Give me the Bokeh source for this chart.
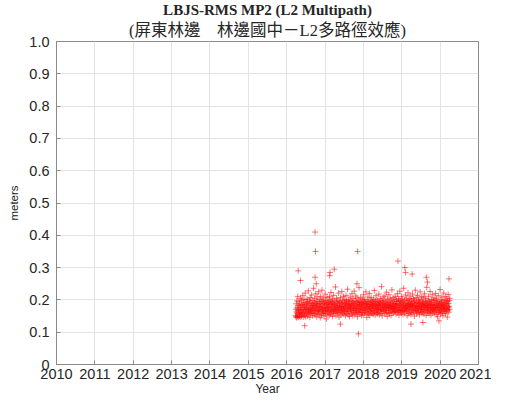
import numpy as np
from bokeh.plotting import figure
from bokeh.models import (ColumnDataSource, FixedTicker, CustomJSTickFormatter,
                          Title, Range1d)
from bokeh.embed import file_html
from bokeh.resources import INLINE

title_main = "LBJS-RMS MP2 (L2 Multipath)"
title_sub = "(屏東林邊　林邊國中－L2多路徑效應)"
x_label = "Year"
y_label = "meters"
x_ticks = [2010, 2011, 2012, 2013, 2014, 2015, 2016, 2017, 2018, 2019, 2020, 2021]
y_ticks = [0.0, 0.1, 0.2, 0.3, 0.4, 0.5, 0.6, 0.7, 0.8, 0.9, 1.0]

# daily-ish observation span
first_year = 2016.23
last_year = 2020.25

# RMS MP2 values in millimetres
mp2_mm = [
    152,171,148,188,163,145,197,159,176,149,210,168,183,146,172,155,194,161,150,187,169,147,178,205,158,
    165,182,149,199,171,154,186,160,213,175,147,190,168,157,201,179,152,184,163,221,170,148,192,176,159,
    187,166,203,174,150,195,181,161,228,169,155,188,172,199,163,146,184,207,170,158,193,177,165,215,182,
    160,189,174,151,198,168,182,236,175,157,191,166,204,179,153,186,171,219,162,194,177,148,188,209,167,
    183,158,196,172,164,225,180,155,190,169,201,176,145,187,211,163,179,195,152,174,230,168,185,159,197,
    171,206,162,189,176,150,193,181,165,218,173,158,199,184,167,141,190,175,208,162,186,171,154,196,179,
    164,192,177,153,210,185,168,199,172,156,189,223,166,181,195,160,176,203,149,187,170,191,163,214,178,
    158,186,171,197,165,182,240,174,151,193,168,205,180,162,188,175,157,199,183,166,221,170,147,190,177,
    195,161,184,169,207,176,153,192,180,165,226,172,188,159,198,181,167,211,174,156,193,179,163,202,186,
    170,151,189,176,214,163,197,182,158,191,173,233,168,185,154,200,178,164,195,181,149,188,171,209,175,
    182,166,198,157,186,172,219,160,193,177,151,204,184,169,190,162,227,175,188,155,196,180,167,212,173,
    159,194,178,165,206,183,148,191,174,161,199,186,170,238,163,181,195,156,187,173,208,166,192,179,152,
    185,170,203,161,189,176,154,197,182,216,168,193,175,159,201,184,166,190,172,225,160,187,178,146,196,
    174,188,162,209,179,155,194,171,186,164,220,177,152,199,183,168,191,175,207,160,185,172,196,158,181,
    193,167,180,156,202,187,173,229,164,190,178,153,197,184,169,213,176,161,188,174,200,157,183,170,195,
    162,186,171,218,179,154,192,183,166,204,175,189,158,197,172,241,168,185,151,194,180,165,209,177,188,
    170,199,163,184,176,212,157,190,181,167,196,173,224,160,187,178,149,202,185,169,193,175,162,216,182,
    176,158,191,183,205,168,187,174,152,199,180,165,231,171,194,177,160,188,207,173,184,162,197,179,166,
    189,172,211,164,185,178,156,201,187,169,195,175,219,161,182,190,167,204,176,153,198,184,171,227,163,
    181,196,168,187,159,210,176,192,165,183,202,171,155,194,180,236,167,188,174,160,199,185,172,215,178,
    164,190,177,205,169,184,151,197,181,166,222,174,189,158,200,183,170,193,176,212,162,186,179,155,203,
    187,171,196,160,183,218,175,190,167,181,204,163,194,178,150,199,184,169,230,173,188,165,207,180,157,
    192,176,168,214,183,161,197,174,189,166,202,180,154,193,178,225,170,186,163,199,181,172,210,159,188,
    175,194,162,185,208,171,190,156,183,177,219,165,196,180,168,204,187,152,192,174,239,169,184,178,161,
    198,181,166,211,176,189,158,195,182,170,226,164,187,175,153,201,186,169,193,177,216,160,183,172,199,
    167,185,173,206,159,191,180,164,198,176,220,170,186,155,203,182,168,194,175,148,189,178,213,161,184,
    176,195,163,188,171,232,168,183,157,200,179,166,192,174,209,160,186,177,151,197,183,169,221,172,190,
    180,164,199,175,187,158,210,173,191,166,184,203,170,147,195,181,168,217,176,189,162,198,179,171,205,
]

# isolated points away from the main band
outlier_year = [2016.74, 2016.75, 2017.85, 2018.90, 2017.87, 2016.30, 2016.36, 2016.74,
                2017.12, 2017.13, 2017.24, 2019.08, 2019.10, 2019.27, 2019.64, 2020.23,
                2016.77, 2017.83, 2019.67, 2016.47, 2017.40, 2019.24, 2019.55, 2019.97]
outlier_val = [0.41, 0.35, 0.35, 0.32, 0.095, 0.29, 0.26, 0.27,
               0.275, 0.285, 0.295, 0.30, 0.285, 0.28, 0.27, 0.265,
               0.25, 0.25, 0.255, 0.12, 0.125, 0.125, 0.13, 0.135]

years = list(np.linspace(first_year, last_year, len(mp2_mm))) + outlier_year
vals = [v / 1000.0 for v in mp2_mm] + outlier_val
src = ColumnDataSource(dict(x=years, y=vals))

GRAY = "#8a8a8a"
TXT = "#262626"

p = figure(width=491, height=398, output_backend="svg", toolbar_location=None,
           x_range=Range1d(2010, 2021), y_range=Range1d(0, 1),
           min_border_left=56, min_border_right=13, min_border_bottom=30, min_border_top=35,
           title=None)
p.background_fill_color = "white"
p.border_fill_color = "white"
p.outline_line_color = GRAY

p.scatter("x", "y", source=src, marker="cross", size=6, line_color="red",
          line_alpha=0.55, line_width=1)

p.xaxis.ticker = FixedTicker(ticks=x_ticks)
p.yaxis.ticker = FixedTicker(ticks=y_ticks)
p.yaxis.formatter = CustomJSTickFormatter(code="return tick == 0 ? '0' : tick.toFixed(1);")

for ax in (p.xaxis[0], p.yaxis[0]):
    ax.axis_line_color = GRAY
    ax.major_tick_line_color = GRAY
    ax.major_tick_in = 4
    ax.major_tick_out = 0
    ax.minor_tick_line_color = None
    ax.major_label_text_font = "Liberation Sans"
    ax.major_label_text_font_size = "14.5px"
    ax.major_label_text_color = TXT
    ax.axis_label_text_font = "Liberation Sans"
    ax.axis_label_text_font_style = "normal"
    ax.axis_label_text_color = TXT

p.xaxis.axis_label = x_label
p.xaxis.axis_label_text_font_size = "12px"
p.xaxis.major_label_standoff = 4
p.xaxis.axis_label_standoff = 0
p.yaxis.axis_label = y_label
p.yaxis.axis_label_text_font_size = "11.5px"
p.yaxis.major_label_standoff = 7
p.yaxis.axis_label_standoff = 6

p.xgrid.ticker = FixedTicker(ticks=x_ticks)
p.ygrid.ticker = FixedTicker(ticks=y_ticks)
p.grid.grid_line_color = "#e3e3e3"
p.grid.grid_line_width = 1

sub = Title(text=title_sub, align="center", text_font="'Liberation Serif', 'Noto Sans CJK TC'",
            text_font_size="16.5px", text_font_style="normal", text_color=TXT, standoff=3, offset=0)
main = Title(text=title_main, align="center", text_font="Liberation Serif",
             text_font_size="15px", text_font_style="bold", text_color=TXT, standoff=-1, offset=0)
p.add_layout(sub, "above")
p.add_layout(main, "above")

open("out.html", "w").write(file_html(p, INLINE))
